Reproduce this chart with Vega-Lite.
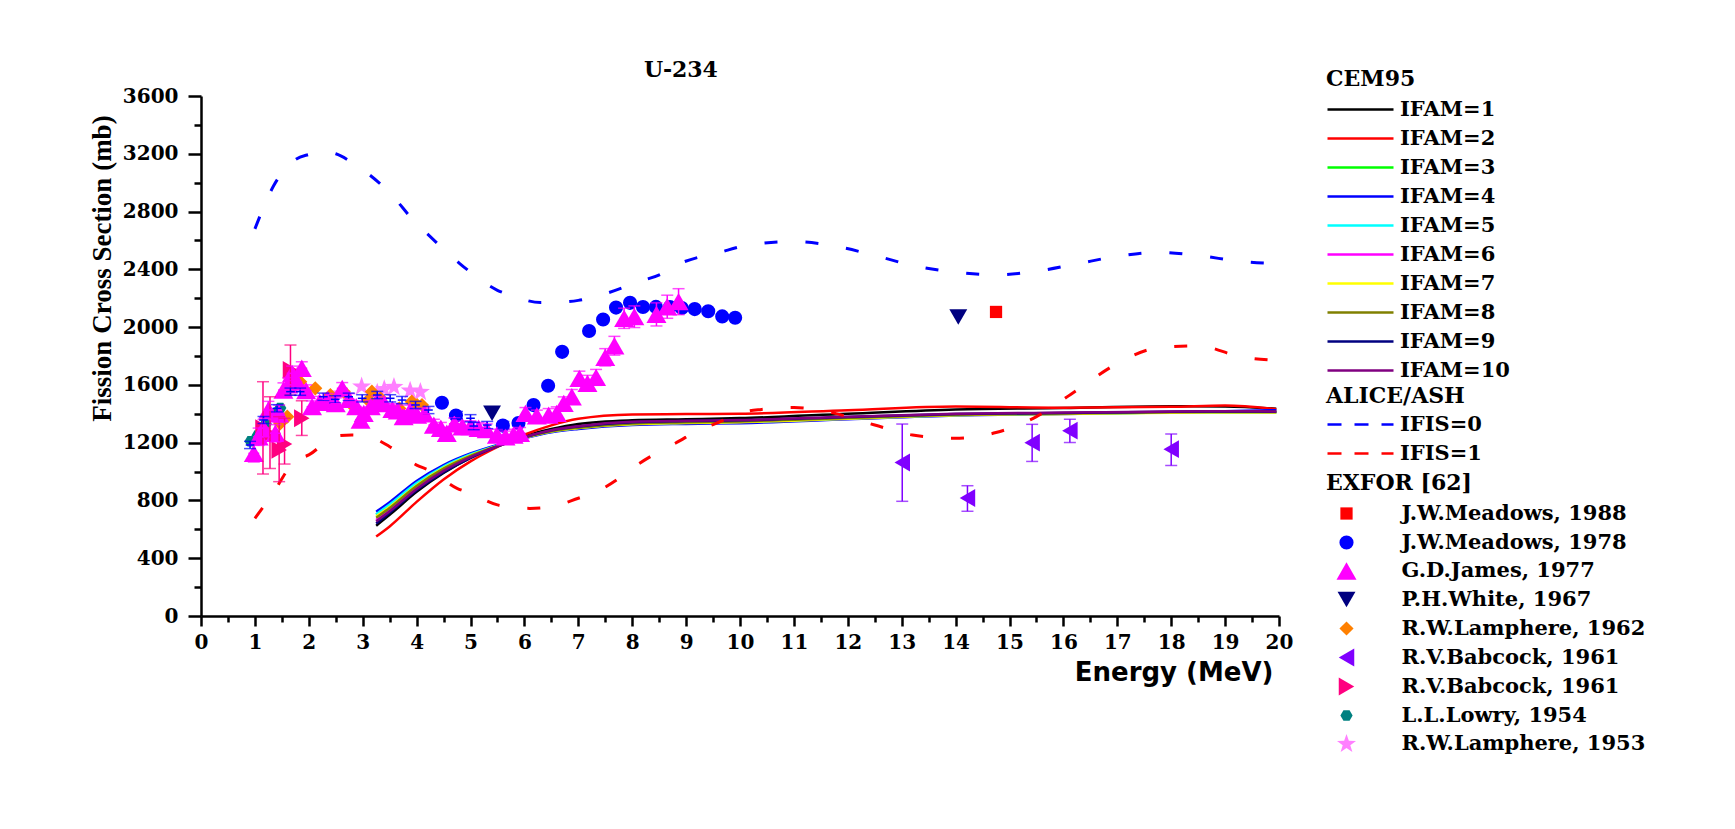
{
 "$schema": "https://vega.github.io/schema/vega-lite/v6.json",
 "width": 1078,
 "height": 520,
 "autosize": {"type": "none"},
 "padding": {"left": 201, "top": 96, "right": 456, "bottom": 213},
 "background": "white",
 "title": {"text": "U-234", "font": "DejaVu Serif", "fontSize": 22, "fontWeight": "bold", "color": "black", "anchor": "middle", "dx": -59, "dy": 49, "frame": "group", "baseline": "alphabetic", "offset": 19},
 "config": {
  "view": {"stroke": null},
  "legend": {"titleFont": "DejaVu Serif", "titleFontSize": 22, "titleFontWeight": "bold", "titleColor": "black", "labelFont": "DejaVu Serif", "labelFontSize": 21, "labelFontWeight": "bold", "labelColor": "black", "labelLimit": 500, "padding": 0, "orient": "none"}
 },
 "datasets": {
  "cem": [
   {"E":3.25,"IFAM=1":625,"IFAM=2":550,"IFAM=3":700,"IFAM=4":722,"IFAM=5":705,"IFAM=6":665,"IFAM=7":690,"IFAM=8":680,"IFAM=9":640,"IFAM=10":655},
   {"E":3.5,"IFAM=1":700,"IFAM=2":620,"IFAM=3":768,"IFAM=4":788,"IFAM=5":772,"IFAM=6":735,"IFAM=7":755,"IFAM=8":748,"IFAM=9":715,"IFAM=10":725},
   {"E":4,"IFAM=1":860,"IFAM=2":790,"IFAM=3":915,"IFAM=4":935,"IFAM=5":920,"IFAM=6":890,"IFAM=7":905,"IFAM=8":900,"IFAM=9":870,"IFAM=10":880},
   {"E":4.5,"IFAM=1":990,"IFAM=2":945,"IFAM=3":1030,"IFAM=4":1045,"IFAM=5":1035,"IFAM=6":1010,"IFAM=7":1025,"IFAM=8":1020,"IFAM=9":995,"IFAM=10":1005},
   {"E":5,"IFAM=1":1095,"IFAM=2":1070,"IFAM=3":1115,"IFAM=4":1125,"IFAM=5":1118,"IFAM=6":1100,"IFAM=7":1112,"IFAM=8":1108,"IFAM=9":1095,"IFAM=10":1100},
   {"E":5.5,"IFAM=1":1175,"IFAM=2":1170,"IFAM=3":1180,"IFAM=4":1185,"IFAM=5":1180,"IFAM=6":1175,"IFAM=7":1178,"IFAM=8":1177,"IFAM=9":1174,"IFAM=10":1176},
   {"E":6,"IFAM=1":1245,"IFAM=2":1255,"IFAM=3":1236,"IFAM=4":1232,"IFAM=5":1235,"IFAM=6":1236,"IFAM=7":1234,"IFAM=8":1235,"IFAM=9":1238,"IFAM=10":1238},
   {"E":6.5,"IFAM=1":1295,"IFAM=2":1320,"IFAM=3":1280,"IFAM=4":1272,"IFAM=5":1278,"IFAM=6":1282,"IFAM=7":1277,"IFAM=8":1279,"IFAM=9":1285,"IFAM=10":1286},
   {"E":7,"IFAM=1":1330,"IFAM=2":1365,"IFAM=3":1305,"IFAM=4":1295,"IFAM=5":1302,"IFAM=6":1308,"IFAM=7":1301,"IFAM=8":1304,"IFAM=9":1312,"IFAM=10":1314},
   {"E":8,"IFAM=1":1355,"IFAM=2":1395,"IFAM=3":1334,"IFAM=4":1322,"IFAM=5":1330,"IFAM=6":1338,"IFAM=7":1328,"IFAM=8":1333,"IFAM=9":1342,"IFAM=10":1345},
   {"E":9,"IFAM=1":1362,"IFAM=2":1398,"IFAM=3":1340,"IFAM=4":1330,"IFAM=5":1338,"IFAM=6":1345,"IFAM=7":1336,"IFAM=8":1341,"IFAM=9":1350,"IFAM=10":1352},
   {"E":10,"IFAM=1":1370,"IFAM=2":1400,"IFAM=3":1346,"IFAM=4":1335,"IFAM=5":1344,"IFAM=6":1350,"IFAM=7":1342,"IFAM=8":1347,"IFAM=9":1355,"IFAM=10":1357},
   {"E":12,"IFAM=1":1400,"IFAM=2":1425,"IFAM=3":1370,"IFAM=4":1362,"IFAM=5":1368,"IFAM=6":1374,"IFAM=7":1366,"IFAM=8":1371,"IFAM=9":1378,"IFAM=10":1380},
   {"E":14,"IFAM=1":1430,"IFAM=2":1450,"IFAM=3":1392,"IFAM=4":1388,"IFAM=5":1391,"IFAM=6":1395,"IFAM=7":1390,"IFAM=8":1393,"IFAM=9":1398,"IFAM=10":1400},
   {"E":16,"IFAM=1":1440,"IFAM=2":1442,"IFAM=3":1401,"IFAM=4":1398,"IFAM=5":1400,"IFAM=6":1404,"IFAM=7":1399,"IFAM=8":1402,"IFAM=9":1406,"IFAM=10":1408},
   {"E":18,"IFAM=1":1452,"IFAM=2":1448,"IFAM=3":1409,"IFAM=4":1410,"IFAM=5":1408,"IFAM=6":1412,"IFAM=7":1407,"IFAM=8":1410,"IFAM=9":1414,"IFAM=10":1416},
   {"E":19,"IFAM=1":1450,"IFAM=2":1458,"IFAM=3":1411,"IFAM=4":1418,"IFAM=5":1410,"IFAM=6":1414,"IFAM=7":1409,"IFAM=8":1412,"IFAM=9":1416,"IFAM=10":1418},
   {"E":19.95,"IFAM=1":1435,"IFAM=2":1432,"IFAM=3":1410,"IFAM=4":1425,"IFAM=5":1411,"IFAM=6":1413,"IFAM=7":1409,"IFAM=8":1412,"IFAM=9":1414,"IFAM=10":1416}
  ],
  "alice": [
   {"c":"IFIS=0","E":1.0,"s":2680},{"c":"IFIS=0","E":1.35,"s":2980},{"c":"IFIS=0","E":1.75,"s":3160},{"c":"IFIS=0","E":2.0,"s":3195},{"c":"IFIS=0","E":2.25,"s":3215},{"c":"IFIS=0","E":2.5,"s":3200},{"c":"IFIS=0","E":2.8,"s":3140},{"c":"IFIS=0","E":3.3,"s":3000},{"c":"IFIS=0","E":3.5,"s":2930},{"c":"IFIS=0","E":4.0,"s":2715},{"c":"IFIS=0","E":4.2,"s":2645},{"c":"IFIS=0","E":4.8,"s":2440},{"c":"IFIS=0","E":5.0,"s":2380},{"c":"IFIS=0","E":5.5,"s":2255},{"c":"IFIS=0","E":5.75,"s":2220},{"c":"IFIS=0","E":6.3,"s":2170},{"c":"IFIS=0","E":6.5,"s":2170},{"c":"IFIS=0","E":7.0,"s":2185},{"c":"IFIS=0","E":7.3,"s":2210},{"c":"IFIS=0","E":7.8,"s":2270},{"c":"IFIS=0","E":8.0,"s":2300},{"c":"IFIS=0","E":8.6,"s":2380},{"c":"IFIS=0","E":8.75,"s":2415},{"c":"IFIS=0","E":9.3,"s":2490},{"c":"IFIS=0","E":9.5,"s":2505},{"c":"IFIS=0","E":10.1,"s":2565},{"c":"IFIS=0","E":10.4,"s":2580},{"c":"IFIS=0","E":11.0,"s":2592},{"c":"IFIS=0","E":11.7,"s":2565},{"c":"IFIS=0","E":12.5,"s":2496},{"c":"IFIS=0","E":13.2,"s":2427},{"c":"IFIS=0","E":14.0,"s":2380},{"c":"IFIS=0","E":14.75,"s":2362},{"c":"IFIS=0","E":15.5,"s":2387},{"c":"IFIS=0","E":16.25,"s":2438},{"c":"IFIS=0","E":17.0,"s":2490},{"c":"IFIS=0","E":17.75,"s":2518},{"c":"IFIS=0","E":18.5,"s":2496},{"c":"IFIS=0","E":19.3,"s":2454},{"c":"IFIS=0","E":19.9,"s":2440},
   {"c":"IFIS=1","E":1.0,"s":676},{"c":"IFIS=1","E":1.3,"s":830},{"c":"IFIS=1","E":1.75,"s":1075},{"c":"IFIS=1","E":2.0,"s":1115},{"c":"IFIS=1","E":2.5,"s":1245},{"c":"IFIS=1","E":2.8,"s":1253},{"c":"IFIS=1","E":3.25,"s":1223},{"c":"IFIS=1","E":3.5,"s":1172},{"c":"IFIS=1","E":4.0,"s":1045},{"c":"IFIS=1","E":4.25,"s":1006},{"c":"IFIS=1","E":4.75,"s":884},{"c":"IFIS=1","E":5.0,"s":849},{"c":"IFIS=1","E":5.5,"s":769},{"c":"IFIS=1","E":5.75,"s":752},{"c":"IFIS=1","E":6.1,"s":745},{"c":"IFIS=1","E":6.5,"s":757},{"c":"IFIS=1","E":7.0,"s":815},{"c":"IFIS=1","E":7.3,"s":854},{"c":"IFIS=1","E":7.8,"s":965},{"c":"IFIS=1","E":8.0,"s":1022},{"c":"IFIS=1","E":8.5,"s":1138},{"c":"IFIS=1","E":8.8,"s":1196},{"c":"IFIS=1","E":9.3,"s":1299},{"c":"IFIS=1","E":9.5,"s":1325},{"c":"IFIS=1","E":10.1,"s":1415},{"c":"IFIS=1","E":10.4,"s":1430},{"c":"IFIS=1","E":11.0,"s":1444},{"c":"IFIS=1","E":11.7,"s":1408},{"c":"IFIS=1","E":12.5,"s":1322},{"c":"IFIS=1","E":13.2,"s":1253},{"c":"IFIS=1","E":14.0,"s":1230},{"c":"IFIS=1","E":14.75,"s":1270},{"c":"IFIS=1","E":15.5,"s":1380},{"c":"IFIS=1","E":16.25,"s":1564},{"c":"IFIS=1","E":17.0,"s":1748},{"c":"IFIS=1","E":17.75,"s":1856},{"c":"IFIS=1","E":18.5,"s":1870},{"c":"IFIS=1","E":19.3,"s":1794},{"c":"IFIS=1","E":19.9,"s":1770}
  ],
  "pts": [
   {"set":"R.W.Lamphere, 1953","E":2.6,"s":1540},{"set":"R.W.Lamphere, 1953","E":2.98,"s":1588},{"set":"R.W.Lamphere, 1953","E":3.27,"s":1545},{"set":"R.W.Lamphere, 1953","E":3.4,"s":1570},{"set":"R.W.Lamphere, 1953","E":3.58,"s":1585},{"set":"R.W.Lamphere, 1953","E":3.88,"s":1560},{"set":"R.W.Lamphere, 1953","E":4.07,"s":1550},
   {"set":"L.L.Lowry, 1954","E":0.92,"s":1210},{"set":"L.L.Lowry, 1954","E":1.05,"s":1250},{"set":"L.L.Lowry, 1954","E":1.2,"s":1330},{"set":"L.L.Lowry, 1954","E":1.35,"s":1400},{"set":"L.L.Lowry, 1954","E":1.47,"s":1440},
   {"set":"R.W.Lamphere, 1962","E":1.47,"s":1334},{"set":"R.W.Lamphere, 1962","E":1.6,"s":1380},{"set":"R.W.Lamphere, 1962","E":1.84,"s":1622},{"set":"R.W.Lamphere, 1962","E":2.12,"s":1576},{"set":"R.W.Lamphere, 1962","E":2.4,"s":1530},{"set":"R.W.Lamphere, 1962","E":2.65,"s":1553},{"set":"R.W.Lamphere, 1962","E":2.77,"s":1472},{"set":"R.W.Lamphere, 1962","E":3.1,"s":1494},{"set":"R.W.Lamphere, 1962","E":3.17,"s":1553},{"set":"R.W.Lamphere, 1962","E":3.33,"s":1507},{"set":"R.W.Lamphere, 1962","E":3.68,"s":1437},{"set":"R.W.Lamphere, 1962","E":3.91,"s":1484},{"set":"R.W.Lamphere, 1962","E":4.01,"s":1460},{"set":"R.W.Lamphere, 1962","E":4.1,"s":1461},
   {"set":"J.W.Meadows, 1978","E":4.47,"s":1476},{"set":"J.W.Meadows, 1978","E":4.73,"s":1388},{"set":"J.W.Meadows, 1978","E":5.6,"s":1318},{"set":"J.W.Meadows, 1978","E":5.89,"s":1336},{"set":"J.W.Meadows, 1978","E":6.17,"s":1460},{"set":"J.W.Meadows, 1978","E":6.44,"s":1594},{"set":"J.W.Meadows, 1978","E":6.7,"s":1829},{"set":"J.W.Meadows, 1978","E":7.2,"s":1973},{"set":"J.W.Meadows, 1978","E":7.46,"s":2053},{"set":"J.W.Meadows, 1978","E":7.7,"s":2135},{"set":"J.W.Meadows, 1978","E":7.96,"s":2168},{"set":"J.W.Meadows, 1978","E":8.2,"s":2139},{"set":"J.W.Meadows, 1978","E":8.44,"s":2140},{"set":"J.W.Meadows, 1978","E":8.7,"s":2139},{"set":"J.W.Meadows, 1978","E":8.92,"s":2132},{"set":"J.W.Meadows, 1978","E":9.16,"s":2125},{"set":"J.W.Meadows, 1978","E":9.41,"s":2110},{"set":"J.W.Meadows, 1978","E":9.67,"s":2074},{"set":"J.W.Meadows, 1978","E":9.91,"s":2065},
   {"set":"R.V.Babcock, 1961 ","E":1.15,"s":1300},{"set":"R.V.Babcock, 1961 ","E":1.28,"s":1260},{"set":"R.V.Babcock, 1961 ","E":1.45,"s":1150},{"set":"R.V.Babcock, 1961 ","E":1.55,"s":1190},{"set":"R.V.Babcock, 1961 ","E":1.66,"s":1703},{"set":"R.V.Babcock, 1961 ","E":1.87,"s":1369},
   {"set":"P.H.White, 1967","E":5.4,"s":1403},{"set":"P.H.White, 1967","E":14.05,"s":2070},
   {"set":"G.D.James, 1977","E":0.98,"s":1126},{"set":"G.D.James, 1977","E":1.07,"s":1241},{"set":"G.D.James, 1977","E":1.16,"s":1300},{"set":"G.D.James, 1977","E":1.25,"s":1426},{"set":"G.D.James, 1977","E":1.38,"s":1265},{"set":"G.D.James, 1977","E":1.45,"s":1400},{"set":"G.D.James, 1977","E":1.53,"s":1564},{"set":"G.D.James, 1977","E":1.62,"s":1600},{"set":"G.D.James, 1977","E":1.69,"s":1680},{"set":"G.D.James, 1977","E":1.78,"s":1620},{"set":"G.D.James, 1977","E":1.87,"s":1715},{"set":"G.D.James, 1977","E":1.95,"s":1560},{"set":"G.D.James, 1977","E":2.06,"s":1449},{"set":"G.D.James, 1977","E":2.2,"s":1480},{"set":"G.D.James, 1977","E":2.35,"s":1500},{"set":"G.D.James, 1977","E":2.5,"s":1470},{"set":"G.D.James, 1977","E":2.62,"s":1576},{"set":"G.D.James, 1977","E":2.75,"s":1500},{"set":"G.D.James, 1977","E":2.88,"s":1450},{"set":"G.D.James, 1977","E":2.96,"s":1357},{"set":"G.D.James, 1977","E":3.02,"s":1403},{"set":"G.D.James, 1977","E":3.15,"s":1450},{"set":"G.D.James, 1977","E":3.27,"s":1484},{"set":"G.D.James, 1977","E":3.4,"s":1470},{"set":"G.D.James, 1977","E":3.55,"s":1430},{"set":"G.D.James, 1977","E":3.65,"s":1420},{"set":"G.D.James, 1977","E":3.76,"s":1380},{"set":"G.D.James, 1977","E":3.88,"s":1420},{"set":"G.D.James, 1977","E":4.01,"s":1391},{"set":"G.D.James, 1977","E":4.15,"s":1400},{"set":"G.D.James, 1977","E":4.32,"s":1322},{"set":"G.D.James, 1977","E":4.45,"s":1300},{"set":"G.D.James, 1977","E":4.56,"s":1265},{"set":"G.D.James, 1977","E":4.7,"s":1330},{"set":"G.D.James, 1977","E":4.85,"s":1310},{"set":"G.D.James, 1977","E":5.0,"s":1311},{"set":"G.D.James, 1977","E":5.15,"s":1300},{"set":"G.D.James, 1977","E":5.3,"s":1290},{"set":"G.D.James, 1977","E":5.49,"s":1253},{"set":"G.D.James, 1977","E":5.65,"s":1240},{"set":"G.D.James, 1977","E":5.8,"s":1253},{"set":"G.D.James, 1977","E":5.92,"s":1265},{"set":"G.D.James, 1977","E":6.02,"s":1403},{"set":"G.D.James, 1977","E":6.23,"s":1385},{"set":"G.D.James, 1977","E":6.45,"s":1391},{"set":"G.D.James, 1977","E":6.6,"s":1403},{"set":"G.D.James, 1977","E":6.73,"s":1472},{"set":"G.D.James, 1977","E":6.88,"s":1518},{"set":"G.D.James, 1977","E":7.02,"s":1645},{"set":"G.D.James, 1977","E":7.17,"s":1611},{"set":"G.D.James, 1977","E":7.33,"s":1652},{"set":"G.D.James, 1977","E":7.5,"s":1791},{"set":"G.D.James, 1977","E":7.67,"s":1871},{"set":"G.D.James, 1977","E":7.85,"s":2061},{"set":"G.D.James, 1977","E":8.04,"s":2072},{"set":"G.D.James, 1977","E":8.45,"s":2088},{"set":"G.D.James, 1977","E":8.65,"s":2141},{"set":"G.D.James, 1977","E":8.86,"s":2176},
   {"set":"R.V.Babcock, 1961","E":13.01,"s":1063},{"set":"R.V.Babcock, 1961","E":14.22,"s":817},{"set":"R.V.Babcock, 1961","E":15.42,"s":1200},{"set":"R.V.Babcock, 1961","E":16.12,"s":1283},{"set":"R.V.Babcock, 1961","E":18.0,"s":1155},
   {"set":"J.W.Meadows, 1988","E":14.75,"s":2105}
  ],
  "errs": [
   {"set":"R.V.Babcock, 1961","E":13.01,"s":1063,"lo":794,"hi":1329},{"set":"R.V.Babcock, 1961","E":14.22,"s":817,"lo":725,"hi":902},{"set":"R.V.Babcock, 1961","E":15.42,"s":1200,"lo":1070,"hi":1327},{"set":"R.V.Babcock, 1961","E":16.12,"s":1283,"lo":1201,"hi":1362},{"set":"R.V.Babcock, 1961","E":18.0,"s":1155,"lo":1042,"hi":1260},
   {"set":"R.V.Babcock, 1961 ","E":1.15,"s":1300,"lo":983,"hi":1622},{"set":"R.V.Babcock, 1961 ","E":1.28,"s":1260,"lo":1022,"hi":1518},{"set":"R.V.Babcock, 1961 ","E":1.45,"s":1150,"lo":930,"hi":1380},{"set":"R.V.Babcock, 1961 ","E":1.55,"s":1190,"lo":1052,"hi":1369},{"set":"R.V.Babcock, 1961 ","E":1.66,"s":1703,"lo":1530,"hi":1876},{"set":"R.V.Babcock, 1961 ","E":1.87,"s":1369,"lo":1250,"hi":1490},
   {"set":"G.D.James, 1977","E":0.98,"s":1126,"lo":1066,"hi":1186,"el":0.88,"eh":1.08},{"set":"G.D.James, 1977","E":1.07,"s":1241,"lo":1181,"hi":1301,"el":0.97,"eh":1.17},{"set":"G.D.James, 1977","E":1.16,"s":1300,"lo":1240,"hi":1360,"el":1.06,"eh":1.26},{"set":"G.D.James, 1977","E":1.25,"s":1426,"lo":1366,"hi":1486,"el":1.15,"eh":1.35},{"set":"G.D.James, 1977","E":1.38,"s":1265,"lo":1205,"hi":1325,"el":1.28,"eh":1.48},{"set":"G.D.James, 1977","E":1.45,"s":1400,"lo":1340,"hi":1460,"el":1.35,"eh":1.55},{"set":"G.D.James, 1977","E":1.53,"s":1564,"lo":1514,"hi":1614,"el":1.43,"eh":1.63},{"set":"G.D.James, 1977","E":1.62,"s":1600,"lo":1550,"hi":1650,"el":1.52,"eh":1.72},{"set":"G.D.James, 1977","E":1.69,"s":1680,"lo":1630,"hi":1730,"el":1.59,"eh":1.79},{"set":"G.D.James, 1977","E":1.78,"s":1620,"lo":1570,"hi":1670,"el":1.68,"eh":1.88},{"set":"G.D.James, 1977","E":1.87,"s":1715,"lo":1670,"hi":1760,"el":1.77,"eh":1.97},{"set":"G.D.James, 1977","E":1.95,"s":1560,"lo":1520,"hi":1600,"el":1.85,"eh":2.05},{"set":"G.D.James, 1977","E":2.06,"s":1449,"lo":1409,"hi":1489,"el":1.96,"eh":2.16},{"set":"G.D.James, 1977","E":2.2,"s":1480,"lo":1440,"hi":1520,"el":2.1,"eh":2.3},{"set":"G.D.James, 1977","E":2.35,"s":1500,"lo":1460,"hi":1540,"el":2.25,"eh":2.45},{"set":"G.D.James, 1977","E":2.5,"s":1470,"lo":1430,"hi":1510,"el":2.4,"eh":2.6},{"set":"G.D.James, 1977","E":2.62,"s":1576,"lo":1536,"hi":1616,"el":2.52,"eh":2.72},{"set":"G.D.James, 1977","E":2.75,"s":1500,"lo":1460,"hi":1540,"el":2.65,"eh":2.85},{"set":"G.D.James, 1977","E":2.88,"s":1450,"lo":1410,"hi":1490,"el":2.78,"eh":2.98},{"set":"G.D.James, 1977","E":2.96,"s":1357,"lo":1317,"hi":1397,"el":2.86,"eh":3.06},{"set":"G.D.James, 1977","E":3.02,"s":1403,"lo":1363,"hi":1443,"el":2.92,"eh":3.12},{"set":"G.D.James, 1977","E":3.15,"s":1450,"lo":1410,"hi":1490,"el":3.05,"eh":3.25},{"set":"G.D.James, 1977","E":3.27,"s":1484,"lo":1444,"hi":1524,"el":3.17,"eh":3.37},{"set":"G.D.James, 1977","E":3.4,"s":1470,"lo":1430,"hi":1510,"el":3.3,"eh":3.5},{"set":"G.D.James, 1977","E":3.55,"s":1430,"lo":1390,"hi":1470,"el":3.45,"eh":3.65},{"set":"G.D.James, 1977","E":3.65,"s":1420,"lo":1380,"hi":1460,"el":3.55,"eh":3.75},{"set":"G.D.James, 1977","E":3.76,"s":1380,"lo":1340,"hi":1420,"el":3.66,"eh":3.86},{"set":"G.D.James, 1977","E":3.88,"s":1420,"lo":1380,"hi":1460,"el":3.78,"eh":3.98},{"set":"G.D.James, 1977","E":4.01,"s":1391,"lo":1351,"hi":1431,"el":3.91,"eh":4.11},{"set":"G.D.James, 1977","E":4.15,"s":1400,"lo":1360,"hi":1440,"el":4.05,"eh":4.25},{"set":"G.D.James, 1977","E":4.32,"s":1322,"lo":1282,"hi":1362,"el":4.22,"eh":4.42},{"set":"G.D.James, 1977","E":4.45,"s":1300,"lo":1260,"hi":1340,"el":4.35,"eh":4.55},{"set":"G.D.James, 1977","E":4.56,"s":1265,"lo":1225,"hi":1305,"el":4.46,"eh":4.66},{"set":"G.D.James, 1977","E":4.7,"s":1330,"lo":1290,"hi":1370,"el":4.6,"eh":4.8},{"set":"G.D.James, 1977","E":4.85,"s":1310,"lo":1270,"hi":1350,"el":4.75,"eh":4.95},{"set":"G.D.James, 1977","E":5.0,"s":1311,"lo":1271,"hi":1351,"el":4.9,"eh":5.1},{"set":"G.D.James, 1977","E":5.15,"s":1300,"lo":1260,"hi":1340,"el":5.05,"eh":5.25},{"set":"G.D.James, 1977","E":5.3,"s":1290,"lo":1250,"hi":1330,"el":5.2,"eh":5.4},{"set":"G.D.James, 1977","E":5.49,"s":1253,"lo":1213,"hi":1293,"el":5.39,"eh":5.59},{"set":"G.D.James, 1977","E":5.65,"s":1240,"lo":1200,"hi":1280,"el":5.55,"eh":5.75},{"set":"G.D.James, 1977","E":5.8,"s":1253,"lo":1213,"hi":1293,"el":5.7,"eh":5.9},{"set":"G.D.James, 1977","E":5.92,"s":1265,"lo":1225,"hi":1305,"el":5.82,"eh":6.02},
   {"set":"G.D.James, 1977","E":6.02,"s":1403,"lo":1363,"hi":1443},{"set":"G.D.James, 1977","E":6.23,"s":1385,"lo":1345,"hi":1425},{"set":"G.D.James, 1977","E":6.45,"s":1391,"lo":1346,"hi":1436},{"set":"G.D.James, 1977","E":6.6,"s":1403,"lo":1358,"hi":1448},{"set":"G.D.James, 1977","E":6.73,"s":1472,"lo":1427,"hi":1517},{"set":"G.D.James, 1977","E":6.88,"s":1518,"lo":1468,"hi":1568},{"set":"G.D.James, 1977","E":7.02,"s":1645,"lo":1595,"hi":1695},{"set":"G.D.James, 1977","E":7.17,"s":1611,"lo":1556,"hi":1666},{"set":"G.D.James, 1977","E":7.33,"s":1652,"lo":1597,"hi":1707},{"set":"G.D.James, 1977","E":7.5,"s":1791,"lo":1731,"hi":1851},{"set":"G.D.James, 1977","E":7.67,"s":1871,"lo":1806,"hi":1936},{"set":"G.D.James, 1977","E":7.85,"s":2061,"lo":1991,"hi":2131},{"set":"G.D.James, 1977","E":8.04,"s":2072,"lo":1997,"hi":2147},{"set":"G.D.James, 1977","E":8.45,"s":2088,"lo":2008,"hi":2168},{"set":"G.D.James, 1977","E":8.65,"s":2141,"lo":2061,"hi":2221},{"set":"G.D.James, 1977","E":8.86,"s":2176,"lo":2086,"hi":2266},
   {"set":"J.W.Meadows, 1978","E":0.91,"s":1184,"lo":1159,"hi":1209,"el":0.83,"eh":0.99},{"set":"J.W.Meadows, 1978","E":1.16,"s":1357,"lo":1332,"hi":1382,"el":1.08,"eh":1.24},{"set":"J.W.Meadows, 1978","E":1.41,"s":1438,"lo":1413,"hi":1463,"el":1.33,"eh":1.49},{"set":"J.W.Meadows, 1978","E":1.66,"s":1553,"lo":1528,"hi":1578,"el":1.58,"eh":1.74},{"set":"J.W.Meadows, 1978","E":1.84,"s":1553,"lo":1528,"hi":1578,"el":1.76,"eh":1.92},{"set":"J.W.Meadows, 1978","E":2.27,"s":1518,"lo":1493,"hi":1543,"el":2.19,"eh":2.35},{"set":"J.W.Meadows, 1978","E":2.49,"s":1500,"lo":1475,"hi":1525,"el":2.41,"eh":2.57},{"set":"J.W.Meadows, 1978","E":2.74,"s":1518,"lo":1493,"hi":1543,"el":2.66,"eh":2.82},{"set":"J.W.Meadows, 1978","E":2.99,"s":1507,"lo":1482,"hi":1532,"el":2.91,"eh":3.07},{"set":"J.W.Meadows, 1978","E":3.27,"s":1530,"lo":1505,"hi":1555,"el":3.19,"eh":3.35},{"set":"J.W.Meadows, 1978","E":3.51,"s":1507,"lo":1482,"hi":1532,"el":3.43,"eh":3.59},{"set":"J.W.Meadows, 1978","E":3.73,"s":1495,"lo":1470,"hi":1520,"el":3.65,"eh":3.81},{"set":"J.W.Meadows, 1978","E":3.98,"s":1461,"lo":1436,"hi":1486,"el":3.9,"eh":4.06},{"set":"J.W.Meadows, 1978","E":4.22,"s":1426,"lo":1401,"hi":1451,"el":4.14,"eh":4.3},{"set":"J.W.Meadows, 1978","E":4.75,"s":1391,"lo":1366,"hi":1416,"el":4.67,"eh":4.83},{"set":"J.W.Meadows, 1978","E":5.0,"s":1369,"lo":1344,"hi":1394,"el":4.92,"eh":5.08},{"set":"J.W.Meadows, 1978","E":5.06,"s":1315,"lo":1290,"hi":1340,"el":4.98,"eh":5.14},{"set":"J.W.Meadows, 1978","E":5.31,"s":1322,"lo":1297,"hi":1347,"el":5.23,"eh":5.39},{"set":"J.W.Meadows, 1978","E":5.61,"s":1322,"lo":1297,"hi":1347,"el":5.53,"eh":5.69}
  ]
 },
 "resolve": {
  "scale": {"color": "independent", "shape": "independent", "strokeDash": "independent", "size": "independent"},
  "axis": {"x": "independent", "y": "independent"}
 },
 "layer": [
  {
   "data": {"name": "cem"},
   "transform": [{"fold": ["IFAM=1","IFAM=2","IFAM=3","IFAM=4","IFAM=5","IFAM=6","IFAM=7","IFAM=8","IFAM=9","IFAM=10"], "as": ["model", "xs"]}],
   "mark": {"type": "line", "strokeWidth": 2.5, "interpolate": "monotone"},
   "encoding": {
    "x": {"field": "E", "type": "quantitative", "scale": {"domain": [0, 20], "nice": false, "zero": false},
     "axis": {"orient": "bottom", "values": [0,1,2,3,4,5,6,7,8,9,10,11,12,13,14,15,16,17,18,19,20], "format": "d", "grid": false, "domainColor": "black", "domainWidth": 2.5, "tickColor": "black", "tickWidth": 2.5, "tickSize": 10, "labelFont": "DejaVu Serif", "labelFontSize": 20, "labelFontWeight": "bold", "labelColor": "black", "labelPadding": 6, "labelFlush": false, "labelOverlap": false, "title": "Energy (MeV)", "titleFont": "DejaVu Sans", "titleFontSize": 26, "titleFontWeight": "bold", "titleColor": "black", "titleAlign": "right", "titleAnchor": "end", "titleX": 1072, "titleY": 56, "titleBaseline": "middle"}},
    "y": {"field": "xs", "type": "quantitative", "scale": {"domain": [0, 3600], "nice": false},
     "axis": {"orient": "left", "values": [0,400,800,1200,1600,2000,2400,2800,3200,3600], "format": "d", "grid": false, "domainColor": "black", "domainWidth": 2.5, "tickColor": "black", "tickWidth": 2.5, "tickSize": 13, "labelFont": "DejaVu Serif", "labelFontSize": 20, "labelFontWeight": "bold", "labelColor": "black", "labelPadding": 10, "labelFlush": false, "labelOverlap": false, "title": "Fission Cross Section (mb)", "titleFont": "Liberation Serif", "titleFontSize": 27, "titleFontWeight": "bold", "titleColor": "black", "titleAngle": -90, "titleAlign": "center", "titleBaseline": "middle", "titleX": -99, "titleY": 172}},
    "color": {"field": "model", "type": "nominal",
     "scale": {"domain": ["IFAM=1","IFAM=2","IFAM=3","IFAM=4","IFAM=5","IFAM=6","IFAM=7","IFAM=8","IFAM=9","IFAM=10"], "range": ["#000000","#FF0000","#00FF00","#0000FF","#00FFFF","#FF00FF","#FFFF00","#808000","#000080","#800080"]},
     "legend": {"title": "CEM95", "orient": "none", "legendX": 1125, "legendY": -27, "symbolType": "M-3,0L3,0", "symbolSize": 484, "symbolOffset": 22, "labelOffset": 27, "symbolStrokeWidth": 2.5, "rowPadding": 6, "titlePadding": 6}}
   }
  },
  {
   "data": {"name": "alice"},
   "mark": {"type": "line", "strokeWidth": 3, "strokeDash": [13, 28], "interpolate": "monotone"},
   "encoding": {
    "x": {"field": "E", "type": "quantitative", "axis": {"orient": "bottom", "values": [0.5,1.5,2.5,3.5,4.5,5.5,6.5,7.5,8.5,9.5,10.5,11.5,12.5,13.5,14.5,15.5,16.5,17.5,18.5,19.5], "labels": false, "domain": false, "grid": false, "title": null, "tickColor": "black", "tickWidth": 2.5, "tickSize": 6}},
    "y": {"field": "s", "type": "quantitative", "axis": {"orient": "left", "values": [200,600,1000,1400,1800,2200,2600,3000,3400], "labels": false, "domain": false, "grid": false, "title": null, "tickColor": "black", "tickWidth": 2.5, "tickSize": 7}},
    "color": {"field": "c", "type": "nominal", "scale": {"domain": ["IFIS=0","IFIS=1"], "range": ["#0000FF","#FF0000"]},
     "legend": {"title": "ALICE/ASH", "orient": "none", "legendX": 1125, "legendY": 290, "symbolType": "M-3,0L3,0", "symbolSize": 484, "symbolOffset": 22, "labelOffset": 27, "symbolStrokeWidth": 2.5, "symbolDash": [14, 13], "rowPadding": 6, "titlePadding": 4}}
   }
  },
  {
   "data": {"name": "pts"},
   "mark": {"type": "point", "filled": true, "opacity": 1},
   "encoding": {
    "x": {"field": "E", "type": "quantitative", "axis": null},
    "y": {"field": "s", "type": "quantitative", "axis": null},
    "size": {"field": "set", "type": "nominal", "legend": null,
     "scale": {"type": "ordinal", "domain": ["J.W.Meadows, 1988","J.W.Meadows, 1978","G.D.James, 1977","P.H.White, 1967","R.W.Lamphere, 1962","R.V.Babcock, 1961","R.V.Babcock, 1961 ","L.L.Lowry, 1954","R.W.Lamphere, 1953"], "range": [150,200,400,320,200,320,320,150,400]}},
    "color": {"field": "set", "type": "nominal",
     "scale": {"domain": ["J.W.Meadows, 1988","J.W.Meadows, 1978","G.D.James, 1977","P.H.White, 1967","R.W.Lamphere, 1962","R.V.Babcock, 1961","R.V.Babcock, 1961 ","L.L.Lowry, 1954","R.W.Lamphere, 1953"], "range": ["#FF0000","#0000FF","#FF00FF","#000080","#FF8000","#8000FF","#FF0080","#008080","#FF80FF"]},
     "legend": {"title": "EXFOR [62]", "orient": "none", "legendX": 1125, "legendY": 377, "symbolSize": 170, "symbolOffset": 9.5, "labelOffset": 44, "rowPadding": 7, "titlePadding": 8, "encode": {"symbols": {"update": {"size": {"value": 160}}}}}},
    "shape": {"field": "set", "type": "nominal",
     "scale": {"domain": ["J.W.Meadows, 1988","J.W.Meadows, 1978","G.D.James, 1977","P.H.White, 1967","R.W.Lamphere, 1962","R.V.Babcock, 1961","R.V.Babcock, 1961 ","L.L.Lowry, 1954","R.W.Lamphere, 1953"], "range": ["square","circle","triangle-up","triangle-down","diamond","triangle-left","triangle-right","M-1,0L-0.5,-0.866L0.5,-0.866L1,0L0.5,0.866L-0.5,0.866Z","M0,-1L0.235,-0.324L0.951,-0.309L0.38,0.124L0.588,0.809L0,0.4L-0.588,0.809L-0.38,0.124L-0.951,-0.309L-0.235,-0.324Z"]},
     "legend": {"title": "EXFOR [62]", "orient": "none", "legendX": 1125, "legendY": 377, "symbolSize": 170, "symbolOffset": 9.5, "labelOffset": 44, "rowPadding": 7, "titlePadding": 8, "encode": {"symbols": {"update": {"size": {"value": 160}}}}}}
   }
  },
  {
   "data": {"name": "errs"},
   "transform": [{"filter": "isValid(datum.lo)"}],
   "mark": {"type": "rule", "strokeWidth": 1.5},
   "encoding": {
    "x": {"field": "E", "type": "quantitative", "axis": null},
    "y": {"field": "lo", "type": "quantitative", "axis": null},
    "y2": {"field": "hi"},
    "color": {"field": "set", "type": "nominal", "scale": {"domain": ["G.D.James, 1977","R.V.Babcock, 1961","R.V.Babcock, 1961 ","J.W.Meadows, 1978"], "range": ["#FF00FF","#8000FF","#FF0080","#0000FF"]}, "legend": null}
   }
  },
  {
   "data": {"name": "errs"},
   "transform": [{"filter": "isValid(datum.lo)"}, {"fold": ["lo", "hi"], "as": ["end", "v"]}],
   "mark": {"type": "tick", "orient": "horizontal", "size": 12, "thickness": 1.5},
   "encoding": {
    "x": {"field": "E", "type": "quantitative", "axis": null},
    "y": {"field": "v", "type": "quantitative", "axis": null},
    "color": {"field": "set", "type": "nominal", "scale": {"domain": ["G.D.James, 1977","R.V.Babcock, 1961","R.V.Babcock, 1961 ","J.W.Meadows, 1978"], "range": ["#FF00FF","#8000FF","#FF0080","#0000FF"]}, "legend": null}
   }
  },
  {
   "data": {"name": "errs"},
   "transform": [{"filter": "isValid(datum.el)"}],
   "mark": {"type": "rule", "strokeWidth": 1.5},
   "encoding": {
    "x": {"field": "el", "type": "quantitative", "axis": null},
    "x2": {"field": "eh"},
    "y": {"field": "s", "type": "quantitative", "axis": null},
    "color": {"field": "set", "type": "nominal", "scale": {"domain": ["G.D.James, 1977","R.V.Babcock, 1961","R.V.Babcock, 1961 ","J.W.Meadows, 1978"], "range": ["#FF00FF","#8000FF","#FF0080","#0000FF"]}, "legend": null}
   }
  }
 ]
}
